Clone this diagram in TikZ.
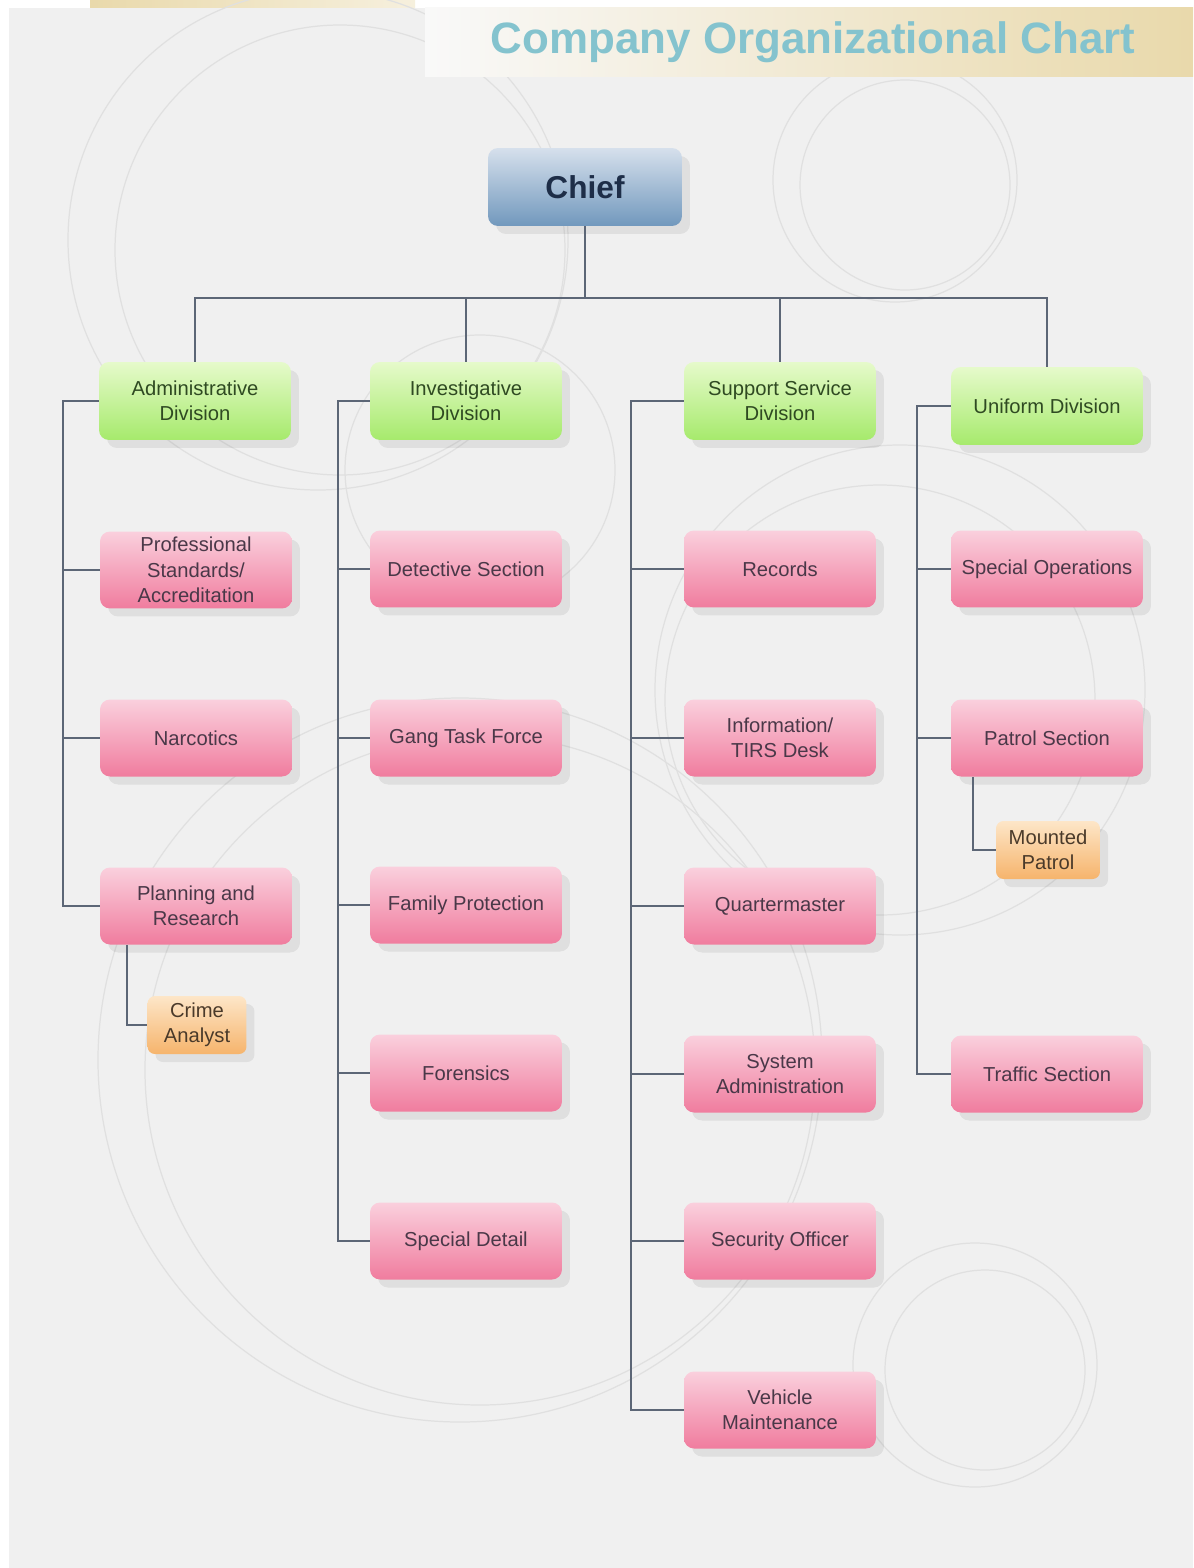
\documentclass[tikz,border=0pt]{standalone}
\usepackage{fontspec}
\setmainfont{Liberation Sans}
\usetikzlibrary{shadows}
\definecolor{bgc}{HTML}{F0F0F0}
\definecolor{ringc}{HTML}{E0E0E0}
\definecolor{linec}{HTML}{5C6676}
\definecolor{pinktop}{HTML}{FAD0DD}
\definecolor{pinkbot}{HTML}{F07C9E}
\definecolor{greentop}{HTML}{E6FACB}
\definecolor{greenbot}{HTML}{A6EA6C}
\definecolor{orangetop}{HTML}{FDE6C8}
\definecolor{orangebot}{HTML}{F6B46C}
\definecolor{bluetop}{HTML}{D6E0EC}
\definecolor{bluebot}{HTML}{7198BD}
\definecolor{titlec}{HTML}{84C3CE}
\definecolor{pinktext}{HTML}{4A3848}
\definecolor{greentext}{HTML}{2F4A22}
\definecolor{orangetext}{HTML}{4A3A2A}
\definecolor{chieftext}{HTML}{1E2E48}
\definecolor{beige}{HTML}{E9D9AB}
\tikzset{
  basebox/.style={rounded corners=0.2cm, align=center, inner sep=2pt,
    font=\fontsize{11.5}{14.5}\selectfont,
    drop shadow={shadow xshift=0.16cm, shadow yshift=-0.16cm, fill=black, opacity=0.07}},
  pinkbox/.style={basebox, minimum width=3.84cm, minimum height=1.54cm,
    top color=pinktop, bottom color=pinkbot, text=pinktext},
  greenbox/.style={basebox, minimum width=3.84cm, minimum height=1.56cm,
    top color=greentop, bottom color=greenbot, text=greentext},
  orangebox/.style={basebox, rounded corners=0.15cm, minimum width=1.98cm, minimum height=1.16cm,
    top color=orangetop, bottom color=orangebot, text=orangetext},
  chiefbox/.style={basebox, minimum width=3.88cm, minimum height=1.56cm,
    top color=bluetop, bottom color=bluebot, text=chieftext,
    font=\fontsize{18}{20}\selectfont\bfseries},
  conn/.style={draw=linec, line width=1.3pt},
  ring/.style={draw=ringc, line width=0.7pt}
}
\begin{document}
\begin{tikzpicture}[x=0.02cm, y=-0.02cm]
\useasboundingbox (0,0) rectangle (1193,1568);
% background
\fill[white] (0,0) rectangle (1193,1568);
\fill[bgc] (9,8) rectangle (1193,1568);
\shade[left color=beige, right color=beige!40] (90,0) rectangle (415,8);
% decorative rings
\draw[ring] (318,240) circle (250);
\draw[ring] (340,250) circle (225);
\draw[ring] (895,180) circle (122);
\draw[ring] (905,185) circle (105);
\draw[ring] (900,690) circle (245);
\draw[ring] (880,700) circle (215);
\draw[ring] (460,1060) circle (362);
\draw[ring] (480,1070) circle (335);
\draw[ring] (975,1365) circle (122);
\draw[ring] (985,1370) circle (100);
\draw[ring] (480,470) circle (135);
% title band
\shade[left color=white!60!bgc, right color=beige] (425,8) rectangle (1193,77);
\node[text=titlec, font=\fontsize{25}{28}\selectfont\bfseries] (title) at (813,42) {Company Organizational Chart};
% nodes
\node[chiefbox] (chief) at (585,187) {Chief};
\node[greenbox] (adm) at (195,401) {Administrative\\Division};
\node[greenbox] (inv) at (466,401) {Investigative\\Division};
\node[greenbox] (sup) at (780,401) {Support Service\\Division};
\node[greenbox] (uni) at (1047,406) {Uniform Division};
% column 1
\node[pinkbox] (prof) at (196,570) {Professional\\Standards/\\Accreditation};
\node[pinkbox] (narc) at (196,738) {Narcotics};
\node[pinkbox] (plan) at (196,906) {Planning and\\Research};
\node[orangebox] (crime) at (197,1025) {Crime\\Analyst};
% column 2
\node[pinkbox] (det) at (466,569) {Detective Section};
\node[pinkbox] (gang) at (466,738) {Gang Task Force};
\node[pinkbox] (fam) at (466,905) {Family Protection};
\node[pinkbox] (for) at (466,1073) {Forensics};
\node[pinkbox] (spd) at (466,1241) {Special Detail};
% column 3
\node[pinkbox] (rec) at (780,569) {Records};
\node[pinkbox] (info) at (780,738) {Information/\\TIRS Desk};
\node[pinkbox] (qm) at (780,906) {Quartermaster};
\node[pinkbox] (sys) at (780,1074) {System\\Administration};
\node[pinkbox] (sec) at (780,1241) {Security Officer};
\node[pinkbox] (veh) at (780,1410) {Vehicle\\Maintenance};
% column 4
\node[pinkbox] (sops) at (1047,569) {Special Operations};
\node[pinkbox] (pat) at (1047,738) {Patrol Section};
\node[orangebox, minimum width=2.08cm] (mnt) at (1048,850) {Mounted\\Patrol};
\node[pinkbox] (trf) at (1047,1074) {Traffic Section};
% connectors
\coordinate (bus) at (585,298);
\draw[conn] (chief.south) -- (bus);
\draw[conn] (bus) -| (adm.north);
\draw[conn] (bus) -| (inv.north);
\draw[conn] (bus) -| (sup.north);
\draw[conn] (bus) -| (uni.north);
\coordinate (c1) at (63,401);
\coordinate (c2) at (338,401);
\coordinate (c3) at (631,401);
\coordinate (c4) at (917,406);
\draw[conn] (adm.west) -- (c1) |- (plan.west);
\draw[conn] (c1) |- (prof.west);
\draw[conn] (c1) |- (narc.west);
\draw[conn] (inv.west) -- (c2) |- (spd.west);
\draw[conn] (c2) |- (det.west);
\draw[conn] (c2) |- (gang.west);
\draw[conn] (c2) |- (fam.west);
\draw[conn] (c2) |- (for.west);
\draw[conn] (sup.west) -- (c3) |- (veh.west);
\draw[conn] (c3) |- (rec.west);
\draw[conn] (c3) |- (info.west);
\draw[conn] (c3) |- (qm.west);
\draw[conn] (c3) |- (sys.west);
\draw[conn] (c3) |- (sec.west);
\draw[conn] (uni.west) -- (c4) |- (trf.west);
\draw[conn] (c4) |- (sops.west);
\draw[conn] (c4) |- (pat.west);
\draw[conn] ([xshift=0.54cm]plan.south west) |- (crime.west);
\draw[conn] ([xshift=0.44cm]pat.south west) |- (mnt.west);
\end{tikzpicture}
\end{document}
